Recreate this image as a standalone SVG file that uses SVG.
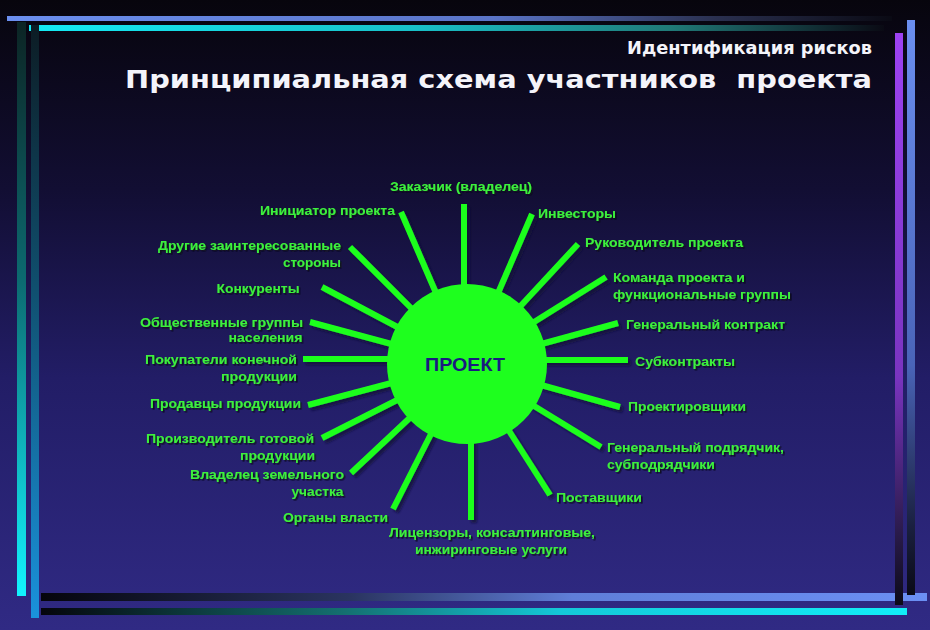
<svg xmlns="http://www.w3.org/2000/svg" width="930" height="630" viewBox="0 0 930 630">
<defs>
<linearGradient id="bg" x1="0" y1="0" x2="0" y2="1">
<stop offset="0" stop-color="#07050d"/>
<stop offset="0.3" stop-color="#120e33"/>
<stop offset="0.6" stop-color="#221d66"/>
<stop offset="1" stop-color="#302a84"/>
</linearGradient>
<linearGradient id="top1" x1="0" y1="0" x2="1" y2="0">
<stop offset="0" stop-color="#6b8ff0"/>
<stop offset="0.55" stop-color="#5a74c8"/>
<stop offset="0.8" stop-color="#2a3050"/>
<stop offset="1" stop-color="#0a0a14"/>
</linearGradient>
<linearGradient id="top2" x1="0" y1="0" x2="1" y2="0">
<stop offset="0" stop-color="#14eaf4"/>
<stop offset="0.45" stop-color="#18c0c8"/>
<stop offset="0.75" stop-color="#207a78"/>
<stop offset="1" stop-color="#0a0a14"/>
</linearGradient>
<linearGradient id="left1" x1="0" y1="0" x2="0" y2="1">
<stop offset="0" stop-color="#0c2424"/>
<stop offset="0.45" stop-color="#0c6a70"/>
<stop offset="1" stop-color="#12f4ff"/>
</linearGradient>
<linearGradient id="left2" x1="0" y1="0" x2="0" y2="1">
<stop offset="0" stop-color="#0c1c24"/>
<stop offset="0.45" stop-color="#105070"/>
<stop offset="1" stop-color="#1a92dc"/>
</linearGradient>
<linearGradient id="bot1" x1="0" y1="0" x2="1" y2="0">
<stop offset="0" stop-color="#05050c"/>
<stop offset="0.35" stop-color="#2a3460"/>
<stop offset="0.6" stop-color="#5f7ed8"/>
<stop offset="1" stop-color="#6b8ff4"/>
</linearGradient>
<linearGradient id="bot2" x1="0" y1="0" x2="1" y2="0">
<stop offset="0" stop-color="#05050c"/>
<stop offset="0.35" stop-color="#147070"/>
<stop offset="0.6" stop-color="#14c8d8"/>
<stop offset="1" stop-color="#12eef8"/>
</linearGradient>
<linearGradient id="right1" x1="0" y1="0" x2="0" y2="1">
<stop offset="0" stop-color="#9c42f2"/>
<stop offset="0.6" stop-color="#7a34c0"/>
<stop offset="0.88" stop-color="#281a48"/>
<stop offset="1" stop-color="#0c0a18"/>
</linearGradient>
<linearGradient id="right2" x1="0" y1="0" x2="0" y2="1">
<stop offset="0" stop-color="#6b8ff0"/>
<stop offset="0.6" stop-color="#4a64b8"/>
<stop offset="0.88" stop-color="#1a2040"/>
<stop offset="1" stop-color="#0a0a16"/>
</linearGradient>
<filter id="tsh" x="-10%" y="-30%" width="120%" height="160%">
<feDropShadow dx="1.5" dy="1.5" stdDeviation="0.6" flood-color="#080818" flood-opacity="0.9"/>
</filter>
<filter id="rsh" x="-20%" y="-20%" width="140%" height="140%">
<feDropShadow dx="3" dy="3" stdDeviation="1" flood-color="#0c0c30" flood-opacity="0.7"/>
</filter>
</defs>
<style>
.lbl{font-family:"Liberation Sans",Arial,sans-serif;font-weight:bold;font-size:12.5px;fill:#3cf03c;filter:url(#tsh)}
.ttl{font-family:"DejaVu Sans",Verdana,sans-serif;font-weight:bold;fill:#f4f4fa}
.ray{stroke:#1eff1e;stroke-width:6;fill:none}
</style>
<rect x="0" y="0" width="930" height="630" fill="url(#bg)"/>

<g id="frame">
<rect x="7" y="16" width="885" height="5" fill="url(#top1)"/>
<rect x="29" y="25" width="855" height="6" fill="url(#top2)"/>
<rect x="17" y="22" width="9" height="574" fill="url(#left1)"/>
<rect x="31" y="25" width="8" height="593" fill="url(#left2)"/>
<rect x="41" y="593" width="886" height="8" fill="url(#bot1)"/>
<rect x="41" y="608" width="866" height="7" fill="url(#bot2)"/>
<rect x="895" y="33" width="8" height="572" fill="url(#right1)"/>
<rect x="907" y="20" width="8" height="575" fill="url(#right2)"/>
</g>

<g id="title">
<text class="ttl" x="627" y="53.5" font-size="17.5" textLength="245" lengthAdjust="spacingAndGlyphs">Идентификация рисков</text>
<text class="ttl" x="125" y="88" font-size="25" textLength="747" lengthAdjust="spacingAndGlyphs" xml:space="preserve">Принципиальная схема участников  проекта</text>
</g>

<g id="connectors" filter="url(#rsh)">
<line class="ray" x1="464" y1="204" x2="464" y2="300"/>
<line class="ray" x1="401" y1="212" x2="439" y2="300"/>
<line class="ray" x1="532" y1="214" x2="495" y2="300"/>
<line class="ray" x1="578" y1="244" x2="514" y2="313"/>
<line class="ray" x1="606" y1="277" x2="526" y2="327"/>
<line class="ray" x1="618" y1="323" x2="534" y2="346"/>
<line class="ray" x1="628" y1="360" x2="537" y2="360"/>
<line class="ray" x1="620" y1="407" x2="534" y2="383"/>
<line class="ray" x1="601" y1="447" x2="526" y2="401"/>
<line class="ray" x1="550" y1="495" x2="504" y2="423"/>
<line class="ray" x1="471" y1="520" x2="471" y2="430"/>
<line class="ray" x1="393" y1="509" x2="435" y2="426"/>
<line class="ray" x1="351" y1="473" x2="416" y2="412"/>
<line class="ray" x1="322" y1="438" x2="405" y2="396"/>
<line class="ray" x1="308" y1="405" x2="399" y2="381"/>
<line class="ray" x1="303" y1="359" x2="397" y2="359"/>
<line class="ray" x1="310" y1="322" x2="399" y2="346"/>
<line class="ray" x1="322" y1="287" x2="405" y2="331"/>
<line class="ray" x1="350" y1="247" x2="417" y2="314"/>
</g>

<g id="project">
<circle cx="467" cy="364" r="80" fill="#1eff1e"/>
<text x="425" y="371" font-family="Liberation Sans,Arial,sans-serif" font-weight="bold" font-size="19" fill="#1a1a80" textLength="80" lengthAdjust="spacingAndGlyphs">ПРОЕКТ</text>
</g>

<g id="n-zakazchik"><text class="lbl" x="390" y="191" textLength="142" lengthAdjust="spacingAndGlyphs">Заказчик (владелец)</text></g>
<g id="n-iniciator"><text class="lbl" x="260" y="215" textLength="135" lengthAdjust="spacingAndGlyphs">Инициатор проекта</text></g>
<g id="n-investory"><text class="lbl" x="538" y="218" textLength="78" lengthAdjust="spacingAndGlyphs">Инвесторы</text></g>
<g id="n-rukovoditel"><text class="lbl" x="585" y="247" textLength="158" lengthAdjust="spacingAndGlyphs">Руководитель проекта</text></g>
<g id="n-drugie">
<text class="lbl" x="158" y="250" textLength="183" lengthAdjust="spacingAndGlyphs">Другие заинтересованные</text>
<text class="lbl" x="283" y="267" textLength="58" lengthAdjust="spacingAndGlyphs">стороны</text>
</g>
<g id="n-komanda">
<text class="lbl" x="613" y="281.5" textLength="132" lengthAdjust="spacingAndGlyphs">Команда проекта и</text>
<text class="lbl" x="613" y="299" textLength="178" lengthAdjust="spacingAndGlyphs">функциональные группы</text>
</g>
<g id="n-konkurenty"><text class="lbl" x="216.5" y="293" textLength="83" lengthAdjust="spacingAndGlyphs">Конкуренты</text></g>
<g id="n-obshchestvennye">
<text class="lbl" x="140" y="327" textLength="163" lengthAdjust="spacingAndGlyphs">Общественные группы</text>
<text class="lbl" x="228.5" y="342" textLength="74" lengthAdjust="spacingAndGlyphs">населения</text>
</g>
<g id="n-genkontrakt"><text class="lbl" x="626" y="328.5" textLength="159" lengthAdjust="spacingAndGlyphs">Генеральный контракт</text></g>
<g id="n-pokupateli">
<text class="lbl" x="145" y="364" textLength="152" lengthAdjust="spacingAndGlyphs">Покупатели конечной</text>
<text class="lbl" x="221" y="381" textLength="76" lengthAdjust="spacingAndGlyphs">продукции</text>
</g>
<g id="n-subkontrakty"><text class="lbl" x="635" y="366" textLength="100" lengthAdjust="spacingAndGlyphs">Субконтракты</text></g>
<g id="n-prodavcy"><text class="lbl" x="150" y="408" textLength="151" lengthAdjust="spacingAndGlyphs">Продавцы продукции</text></g>
<g id="n-proektirovshchiki"><text class="lbl" x="628" y="411" textLength="118" lengthAdjust="spacingAndGlyphs">Проектировщики</text></g>
<g id="n-proizvoditel">
<text class="lbl" x="146" y="443" textLength="168" lengthAdjust="spacingAndGlyphs">Производитель готовой</text>
<text class="lbl" x="240" y="460" textLength="75" lengthAdjust="spacingAndGlyphs">продукции</text>
</g>
<g id="n-genpodryadchik">
<text class="lbl" x="607" y="452" textLength="177" lengthAdjust="spacingAndGlyphs">Генеральный подрядчик,</text>
<text class="lbl" x="607" y="468.5" textLength="108" lengthAdjust="spacingAndGlyphs">субподрядчики</text>
</g>
<g id="n-vladelec">
<text class="lbl" x="190" y="479" textLength="154" lengthAdjust="spacingAndGlyphs">Владелец земельного</text>
<text class="lbl" x="291.5" y="496" textLength="52" lengthAdjust="spacingAndGlyphs">участка</text>
</g>
<g id="n-postavshchiki"><text class="lbl" x="556" y="502" textLength="86" lengthAdjust="spacingAndGlyphs">Поставщики</text></g>
<g id="n-organy"><text class="lbl" x="283" y="522" textLength="105" lengthAdjust="spacingAndGlyphs">Органы власти</text></g>
<g id="n-licenzory">
<text class="lbl" x="389" y="537" textLength="206" lengthAdjust="spacingAndGlyphs">Лицензоры, консалтинговые,</text>
<text class="lbl" x="415" y="554" textLength="152" lengthAdjust="spacingAndGlyphs">инжиринговые услуги</text>
</g>
</svg>
